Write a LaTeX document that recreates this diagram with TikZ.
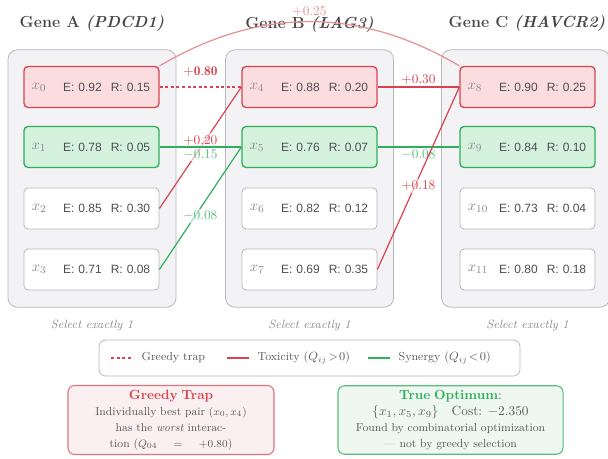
\documentclass[tikz,border=0pt]{standalone}
\usepackage{fontspec}
\newfontfamily\valfont{Liberation Sans}
\usepackage{tikz}

\definecolor{trapred}{HTML}{D9434F}
\definecolor{redfill}{HTML}{FCDDDF}
\definecolor{syngreen}{HTML}{2FAE5C}
\definecolor{greenfill}{HTML}{D5F2DC}
\definecolor{boxgray}{HTML}{B7B7BF}
\definecolor{groupfill}{HTML}{F3F3F6}
\definecolor{valgray}{HTML}{4D4D55}
\definecolor{labgray}{HTML}{8A8A90}
\definecolor{titlegray}{HTML}{484848}
\definecolor{bodygray}{HTML}{5A5A5A}
\definecolor{trapfill}{HTML}{FBF0F1}
\definecolor{optfill}{HTML}{EEF8F1}

\begin{document}
\begin{tikzpicture}[x=0.75pt,y=-0.75pt,>=stealth]
	\tikzstyle{every node}=[align=center]
	\tikzstyle{group}=[draw=boxgray, fill=groupfill, rounded corners=7pt, line width=0.6pt, minimum width=126pt, minimum height=193pt]
	\tikzstyle{title}=[text=titlegray, font=\fontsize{12}{14}\selectfont\bfseries]
	\tikzstyle{sel}=[text=labgray, font=\fontsize{9}{11}\selectfont\itshape]
	\tikzstyle{item}=[draw=boxgray, fill=white, rounded corners=3pt, line width=0.6pt, minimum height=30.75pt, text width=88pt, inner xsep=6.6pt, align=right, text=valgray, font=\valfont\fontsize{9}{11}\selectfont]
	\tikzstyle{bad}=[item, draw=trapred, fill=redfill, line width=1pt]
	\tikzstyle{good}=[item, draw=syngreen, fill=greenfill, line width=1pt]
	\tikzstyle{xlab}=[anchor=west, xshift=6pt, inner sep=0pt, text=labgray, font=\fontsize{11}{13}\selectfont]
	\tikzstyle{tox}=[trapred, line width=0.9pt]
	\tikzstyle{syn}=[syngreen, line width=0.9pt]
	\tikzstyle{greedy}=[trapred, line width=2.2pt, dotted]
	\tikzstyle{wt}=[font=\fontsize{10}{12}\selectfont, inner sep=1.5pt, fill=white, fill opacity=0.6, text opacity=1]
	\tikzstyle{legtxt}=[anchor=west, text=bodygray, font=\fontsize{8.7}{10}\selectfont]
	\tikzstyle{note}=[rounded corners=5pt, line width=0.8pt, minimum height=51pt, text=bodygray, font=\fontsize{8.5}{12}\selectfont]
	\useasboundingbox (0,0) rectangle (608,458);

	\node[group] (gA) at (92,178.5) {};
	\node[group] (gB) at (309.5,178.5) {};
	\node[group] (gC) at (525.5,178.5) {};
	\node[title] (tA) at (92,23) {Gene A \textit{(PDCD1)}};
	\node[title] (tB) at (309.5,24) {Gene B \textit{(LAG3)}};
	\node[title] (tC) at (527,23) {Gene C \textit{(HAVCR2)}};
	\node[sel] (sA) at (92,325) {Select exactly 1};
	\node[sel] (sB) at (309.5,325) {Select exactly 1};
	\node[sel] (sC) at (527.5,325) {Select exactly 1};

	\node[bad] (x0) at (91.5,87) {E: 0.92\hspace{0.75em}R: 0.15};
	\node[good] (x1) at (91.5,147) {E: 0.78\hspace{0.75em}R: 0.05};
	\node[item] (x2) at (91.5,208.5) {E: 0.85\hspace{0.75em}R: 0.30};
	\node[item] (x3) at (91.5,269.5) {E: 0.71\hspace{0.75em}R: 0.08};
	\node[bad] (x4) at (309.5,87) {E: 0.88\hspace{0.75em}R: 0.20};
	\node[good] (x5) at (309.5,147) {E: 0.76\hspace{0.75em}R: 0.07};
	\node[item] (x6) at (309.5,208.5) {E: 0.82\hspace{0.75em}R: 0.12};
	\node[item] (x7) at (309.5,269.5) {E: 0.69\hspace{0.75em}R: 0.35};
	\node[bad] (x8) at (527.5,87) {E: 0.90\hspace{0.75em}R: 0.25};
	\node[good] (x9) at (527.5,147) {E: 0.84\hspace{0.75em}R: 0.10};
	\node[item] (x10) at (527.5,208.5) {E: 0.73\hspace{0.75em}R: 0.04};
	\node[item] (x11) at (527.5,269.5) {E: 0.80\hspace{0.75em}R: 0.18};

	\node[xlab] (l0) at (x0.west) {$x_0$};
	\node[xlab] (l1) at (x1.west) {$x_1$};
	\node[xlab] (l2) at (x2.west) {$x_2$};
	\node[xlab] (l3) at (x3.west) {$x_3$};
	\node[xlab] (l4) at (x4.west) {$x_4$};
	\node[xlab] (l5) at (x5.west) {$x_5$};
	\node[xlab] (l6) at (x6.west) {$x_6$};
	\node[xlab] (l7) at (x7.west) {$x_7$};
	\node[xlab] (l8) at (x8.west) {$x_8$};
	\node[xlab] (l9) at (x9.west) {$x_9$};
	\node[xlab] (l10) at (x10.west) {$x_{10}$};
	\node[xlab] (l11) at (x11.west) {$x_{11}$};

	\draw[greedy] (x0.east) -- node[above=3pt, font=\fontsize{10}{12}\selectfont\bfseries] {$\mathbf{+0.80}$} (x4.west);
	\draw[tox, trapred!60] (x0.north east) .. controls +(100,-59) and +(-100,-59) .. node[pos=0.5, above=2pt, wt, fill opacity=0] {$+0.25$} (x8.north west);
	\draw[tox] (x2.east) -- node[pos=0.5, above, wt] {$+0.20$} (x4.west);
	\draw[syn] (x1.east) -- node[pos=0.5, below, wt, text=syngreen!80] {$-0.15$} (x5.west);
	\draw[syn] (x3.east) -- node[pos=0.5, below, wt, text=syngreen!80] {$-0.08$} (x5.west);
	\draw[tox] (x4.east) -- node[pos=0.5, above, wt] {$+0.30$} (x8.west);
	\draw[syn] (x5.east) -- node[pos=0.5, below, wt, text=syngreen!80] {$-0.08$} (x9.west);
	\draw[tox] (x7.east) -- node[pos=0.5, below, wt] {$+0.18$} (x8.west);

	\node[draw=boxgray, fill=white, rounded corners=5pt, line width=0.6pt, minimum width=315.75pt, minimum height=27pt] (leg) at (309.5,358) {};
	\node[legtxt] (k1) at (137,358) {Greedy trap};
	\node[legtxt] (k2) at (253,358) {Toxicity ($Q_{ij}\!>\!0$)};
	\node[legtxt] (k3) at (394,358) {Synergy ($Q_{ij}\!<\!0$)};
	\draw[greedy, line width=1.8pt] (k1.west) ++(-26,0) -- ++(21,0);
	\draw[tox] (k2.west) ++(-26,0) -- ++(22,0);
	\draw[syn] (k3.west) ++(-26,0) -- ++(22,0);

	\node[note, draw=trapred!75, fill=trapfill, text width=146pt, inner xsep=4.25pt] (trap) at (171,420) {{\fontsize{10}{12}\selectfont\bfseries\color{trapred}Greedy Trap}\\Individually best pair $(x_0,x_4)$\\has the \emph{worst} interac-\\tion ($Q_{04}\;=\;+0.80$)};
	\node[note, draw=syngreen!80, fill=optfill, text width=160pt, inner xsep=4.4pt] (opt) at (450.5,420) {{\fontsize{10}{12}\selectfont\textbf{\color{syngreen}True Optimum}:}\\{\fontsize{10}{12}\selectfont$\{x_1,x_5,x_9\}$\quad Cost: $-2.350$}\\Found by combinatorial optimization\\{\color{black!35}---} not by greedy selection};
\end{tikzpicture}
\end{document}
